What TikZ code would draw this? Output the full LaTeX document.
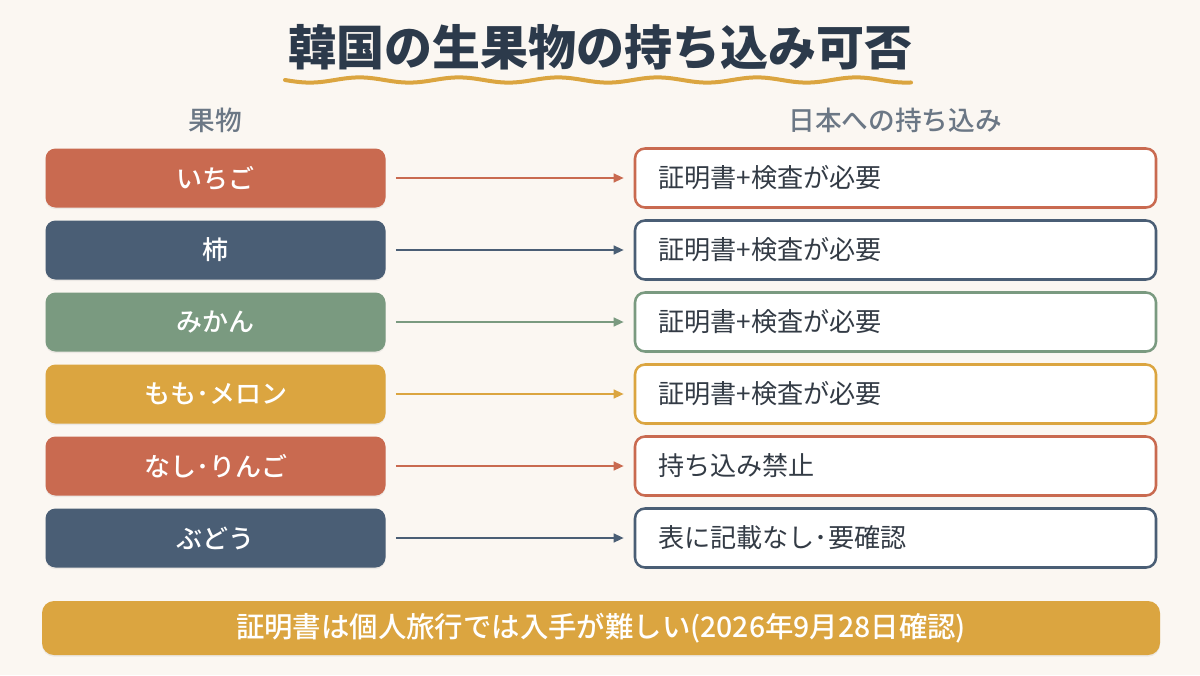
\documentclass[tikz,border=0pt]{standalone}
\usepackage{fontspec}
\setmainfont{Noto Sans CJK JP}
\newfontfamily\jpmed{Noto Sans CJK JP Medium}
\usetikzlibrary{arrows.meta,shadows}
\definecolor{bg}{HTML}{FBF7F2}
\definecolor{terra}{HTML}{C96A50}
\definecolor{navy}{HTML}{4A5E75}
\definecolor{sage}{HTML}{7A9A80}
\definecolor{gold}{HTML}{DBA540}
\definecolor{titlec}{HTML}{2C3A4B}
\definecolor{headc}{HTML}{6B7785}
\definecolor{txtc}{HTML}{333B45}
\tikzset{
  fruit/.style={draw=none, fill=#1, rounded corners=7.5pt, minimum width=255pt, minimum height=44.25pt,
    text=white, font=\jpmed\fontsize{19.5pt}{22pt}\selectfont, inner sep=0pt,
    drop shadow={opacity=0.12, shadow xshift=0pt, shadow yshift=-1.2pt}},
  result/.style={draw=#1, line width=1.9pt, fill=white, rounded corners=7.5pt, minimum width=390.75pt,
    minimum height=44.25pt, text width=356pt, align=left, inner xsep=17pt, inner ysep=0pt,
    text=txtc, font=\fontsize{19.6pt}{22pt}\selectfont,
    drop shadow={opacity=0.08, shadow xshift=0pt, shadow yshift=-1.2pt}},
  conn/.style={draw=#1, line width=1.5pt, -{Triangle[length=7.5pt,width=6.5pt]},
    shorten <=7.5pt, shorten >=7.5pt},
  head/.style={text=headc, font=\jpmed\fontsize{20pt}{23pt}\selectfont}
}
\begin{document}
\begin{tikzpicture}[x=0.75pt,y=-0.75pt]
\useasboundingbox (0,0) rectangle (1200,675);
\fill[bg] (0,0) rectangle (1200,675);
\node[text=titlec, font=\bfseries\fontsize{36pt}{40pt}\selectfont] (title) at (600,47) {韓国の生果物の持ち込み可否};
\draw[gold, line width=3pt, line cap=round] plot[domain=285:911, samples=160, smooth] (\x, {80+2.6*sin((\x-285)/626*6.3*360)});
\node[head] (h1) at (215,120) {果物};
\node[head] (h2) at (895,120) {日本への持ち込み};
\foreach \i/\f/\r/\c in {1/いちご/証明書+検査が必要/terra, 2/柿/証明書+検査が必要/navy, 3/みかん/証明書+検査が必要/sage, 4/もも･メロン/証明書+検査が必要/gold, 5/なし･りんご/持ち込み禁止/terra, 6/ぶどう/表に記載なし･要確認/navy}{
  \node[fruit=\c] (L\i) at (215.5,{178+72*(\i-1)}) {\f};
  \node[result=\c] (R\i) at (895.5,{178+72*(\i-1)}) {\r};
  \draw[conn=\c] (L\i.east) -- (R\i.west);
}
\node[fill=gold, rounded corners=9pt, minimum width=838.5pt, minimum height=40.5pt, text=white,
  font=\jpmed\fontsize{21.3pt}{24pt}\selectfont, inner sep=0pt,
  drop shadow={opacity=0.12, shadow xshift=0pt, shadow yshift=-1.2pt}] (note) at (601,628) {証明書は個人旅行では入手が難しい(2026年9月28日確認)};
\end{tikzpicture}
\end{document}
